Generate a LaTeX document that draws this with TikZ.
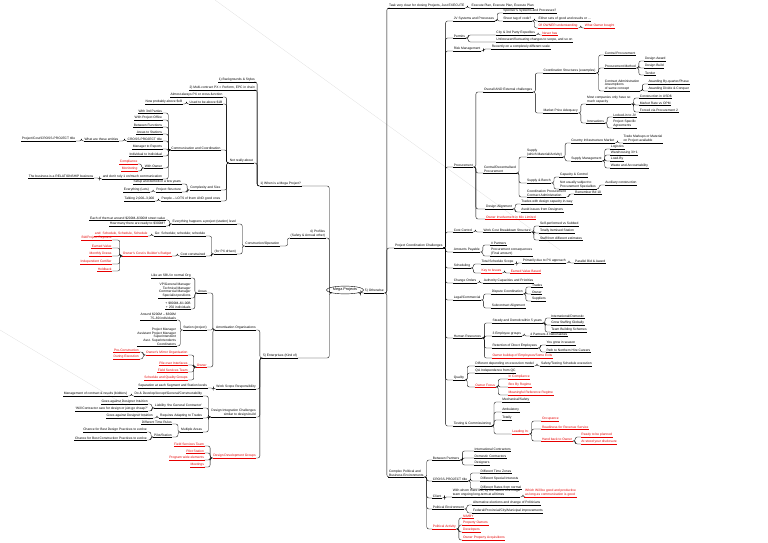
\documentclass[tikz,border=0pt]{standalone}
\usepackage{fontspec}
\setmainfont{Liberation Sans}
\usetikzlibrary{shapes.geometric}
\definecolor{hot}{RGB}{230,0,0}
\tikzset{leaf/.style={inner sep=0.5pt,align=left,font=\fontsize{3.3}{3.7}\selectfont},
  conn/.style={line width=0.35pt,rounded corners=2pt}}
% right hand leaf: colour, name, gap, y, text, parent
\newcommand\rt[6][black]{\path (#6.south east) ++(#3,0) coordinate (tmpx) (0,#4) coordinate (tmpy);
  \node[leaf,text=#1,anchor=south west] (#2) at (tmpx |- tmpy) {#5};
  \draw[conn] (#6.south east) -- ++(2.5,0) |- (#2.south west);
  \draw[conn,#1] (#2.south west) -- (#2.south east);}
% left hand leaf
\newcommand\lf[6][black]{\path (#6.south west) ++(-#3,0) coordinate (tmpx) (0,#4) coordinate (tmpy);
  \node[leaf,align=right,text=#1,anchor=south east] (#2) at (tmpx |- tmpy) {#5};
  \draw[conn] (#6.south west) -- ++(-2.5,0) |- (#2.south east);
  \draw[conn,#1] (#2.south east) -- (#2.south west);}
\begin{document}
\begin{tikzpicture}[x=1pt,y=-1pt]
\useasboundingbox (0,0) rectangle (768,543);
\draw[black!12,line width=0.3pt] (215,0) -- (560,250);
\draw[black!12,line width=0.3pt] (0,330) -- (150,420);
\node[draw,ellipse,inner sep=1pt,font=\fontsize{3.8}{4}\selectfont] (mp) at (345,290) {Mega Projects};
% right side
\rt{oth}{6}{293}{5) Otherwise}{mp}
\rt{top}{4}{8}{Task very clear for closing Projects, Just EXECUTE}{oth}
\rt{ex}{6}{8}{Execute Plan, Execute Plan, Execute Plan}{top}
\rt{pcc}{10}{248}{Project Coordination Challenges}{oth}
\rt{cpb}{4}{477}{Complex Political and\\Business Environments}{oth}
% project coordination
\rt{jv}{10}{21}{JV Systems and Processes}{pcc}
\rt{jva}{8}{13}{Sponsor's Systems and Processes?}{jv}
\rt{jvb}{8}{21}{Sheer tag of code?}{jv}
\rt{jvc}{6}{21}{Either sets of good and results or ...}{jvb}
\rt[hot]{jvd}{6}{28}{Of OWNER understanding}{jvb}
\rt[hot]{jve}{6}{28}{What Owner bought}{jvd}
\rt{per}{10}{38}{Permits}{pcc}
\rt{pera}{30}{35}{City \& 3rd Party Expedites}{per}
\rt[hot]{perb}{6}{35}{Never has}{pera}
\rt{perc}{30}{42}{Unforeseen/fluctuating changes to scope, and so on}{per}
\rt{risk}{10}{51}{Risk Management}{pcc}
\rt{riska}{10}{49}{Recently on a completely different scale}{risk}
\rt{proc}{10}{167}{Procurement}{pcc}
\rt{ov}{10}{92}{Overall AND External challenges}{proc}
\rt{cs}{10}{73}{Coordination Structures (examples)}{ov}
\rt{csa}{8}{55}{Central Procurement}{cs}
\rt{csb}{8}{68}{Procurement Method}{cs}
\rt{csba}{8}{61}{Design Award}{csb}
\rt{csbb}{8}{68}{Design Build}{csb}
\rt{csbc}{8}{75}{Tender}{csb}
\rt{csc}{8}{91}{Contract Administration\\Assumptions\\of same concept}{cs}
\rt{csca}{8}{84}{Awarding By-quarter/Phase}{csc}
\rt{cscb}{8}{91}{Awarding Divide \& Conquer}{csc}
\rt{mpa}{10}{113}{Market Price Adequacy}{ov}
\rt{mpaa}{8}{104}{Most companies only have so\\much capacity}{mpa}
\rt{mpab}{8}{98}{Construction in USD\$}{mpaa}
\rt{mpac}{8}{105}{Market Rate vs OPM}{mpaa}
\rt{mpad}{8}{112}{Forced via Procurement 2}{mpaa}
\rt{inn}{8}{123}{Innovations}{mpa}
\rt{inna}{8}{117}{Locked-in to JV}{inn}
\rt{innb}{8}{128}{Project Specific\\Agreements}{inn}
\rt{cdp}{10}{173}{Central/Decentralised\\Procurement}{proc}
\rt{sup}{10}{157}{Supply\\(which Material/Activity)}{cdp}
\rt{supa}{8}{143}{Country Infrastructure Market}{sup}
\rt{supb}{8}{143}{Trade Markups or Material\\on Project available}{supa}
\rt{supc}{8}{161}{Supply Management}{sup}
\rt{supd}{8}{149}{Logistics}{supc}
\rt{supe}{8}{155}{Warehousing 3/+1}{supc}
\rt{supf}{8}{161}{Load-By}{supc}
\rt{supg}{8}{168}{Waste and Accountability}{supc}
\rt{sub}{10}{183}{Supply \& Bench}{cdp}
\rt{suba}{8}{177}{Capacity \& Control}{sub}
\rt{subb}{8}{189}{Not usually subject to\\Procurement Specialties}{sub}
\rt{subc}{8}{185}{Auxiliary construction}{subb}
\rt{cpa}{10}{197}{Coordination Procurement\\Contract Administration}{cdp}
\rt{cpab}{8}{194}{Remember Bd 10}{cpa}
\rt{da}{12}{209}{Design Alignment}{proc}
\rt{daa}{8}{204}{Trades with design capacity in-way}{da}
\rt{dab}{8}{212}{Avoid issues from Designers}{da}
\rt[hot]{own}{12}{219}{Owner Involvement in Mix Limited}{proc}
\rt{cc}{10}{232}{Cost Control}{pcc}
\rt{wcb}{10}{232}{Work Cost Breakdown Structure}{cc}
\rt{wcba}{8}{226}{Self-performed vs Subbed}{wcb}
\rt{wcbb}{8}{233}{Totally Itemised Station}{wcb}
\rt{wcbc}{8}{240}{Staff from different estimates}{wcb}
\rt{ap}{10}{252}{Amounts Payable}{pcc}
\rt{apa}{10}{245}{\# Partners}{ap}
\rt{apb}{10}{256}{Procurement consequences\\(Final amount)}{ap}
\rt{sch}{10}{268}{Scheduling}{pcc}
\rt{scha}{10}{264}{Total Schedule Scope}{sch}
\rt{schb}{8}{263}{Primarily due to PX approach}{scha}
\rt{schc}{8}{263}{Parallel Bid \& Award}{schb}
\rt[hot]{schd}{10}{273}{Key to Issues}{sch}
\rt[hot]{sche}{8}{273}{Earned Value Based}{schd}
\rt{chg}{10}{283}{Change Orders}{pcc}
\rt{chga}{6}{283}{Authority Capacities and Priorities}{chg}
\rt{lc}{10}{300}{Legal/Commercial}{pcc}
\rt{lca}{10}{294}{Dispute Coordination}{lc}
\rt{lcb}{8}{287}{Trades}{lca}
\rt{lcc}{8}{294}{Owner}{lca}
\rt{lcd}{8}{301}{Suppliers}{lca}
\rt{lce}{10}{308}{Subcontract Alignment}{lc}
\rt{hr}{10}{338}{Human Resources}{pcc}
\rt{hra}{10}{323}{Steady and Demob within 5 years}{hr}
\rt{hrb}{8}{318}{International/Domestic}{hra}
\rt{hrc}{8}{325}{Grow Staffing Globally}{hra}
\rt{hrd}{8}{332}{Team Building Schemes}{hra}
\rt{hre}{10}{336}{3 Employee groups}{hr}
\rt{hrf}{8}{336}{4 Partners 4 Nationalities}{hre}
\rt{hrg}{10}{348}{Retention of Direct Employees}{hr}
\rt{hrh}{8}{345}{You grow in season}{hrg}
\rt{hri}{8}{352}{Path to Northern Hire Careers}{hrg}
\rt[hot]{hrj}{10}{358}{Owner buildup of Employees/Some Exits}{hr}
\rt{q}{10}{380}{Quality}{pcc}
\rt{qa}{10}{366}{Different depending on execution model}{q}
\rt{qb}{6}{366}{Safety/Testing Schedule execution}{qa}
\rt{qc}{10}{373}{QA Independence from QC}{q}
\rt[hot]{qd}{10}{387}{Owner Focus}{q}
\rt[hot]{qe}{12}{379}{In Compliance}{qd}
\rt[hot]{qf}{12}{387}{Box By Regime}{qd}
\rt[hot]{qg}{12}{395}{Meaningful Reference Regime}{qd}
\rt{tc}{10}{426}{Testing \& Commissioning}{pcc}
\rt{tca}{10}{402}{Mechanical/Safety}{tc}
\rt{tcb}{10}{412}{Ambulatory}{tc}
\rt{tcc}{10}{420}{Totally}{tc}
\rt[hot]{tcd}{20}{434}{Leading In:}{tc}
\rt[hot]{tce}{12}{421}{Occupance}{tcd}
\rt[hot]{tcf}{12}{429}{Readiness for Revenue Service}{tcd}
\rt[hot]{tcg}{12}{441}{Hand back to Owner}{tcd}
\rt[hot]{tch}{8}{437}{Ready to be planned}{tcg}
\rt[hot]{tci}{8}{444}{At stood your disclosure}{tcg}
% political and business
\rt{bp}{8}{460}{Between Partners}{cpb}
\rt{bpa}{14}{451}{International Contractors}{bp}
\rt{bpb}{14}{458}{Domestic Contractors}{bp}
\rt{bpc}{14}{465}{Designers}{bp}
\rt{ce}{8}{481}{CROSS-PROJECT title}{cpb}
\rt{cea}{12}{473}{Different Time Zones}{ce}
\rt{ceb}{12}{481}{Different Special Interests}{ce}
\rt{cec}{12}{489}{Different Rates from normal}{ce}
\rt{cl}{8}{498}{Client}{cpb}
\rt{cla}{10}{497}{With whom there will, by the nature of a mega\\team ongoing long-term at all times}{cl}
\rt[hot]{clb}{4}{497}{Which Will be good and productive\\as long as communication is good}{cla}
\rt{pe}{8}{509}{Political Environment}{cpb}
\rt{pea}{8}{505}{Alternative elections and change of Politicians}{pe}
\rt{peb}{8}{513}{Federal/Provincial/City/Municipal improvements}{pe}
\rt[hot]{pa}{8}{529}{Political Activity}{cpb}
\rt[hot]{paa}{6}{518}{NIMBY}{pa}
\rt[hot]{pab}{6}{525}{Property Owners}{pa}
\rt[hot]{pac}{6}{532}{Developers}{pa}
\rt[hot]{pad}{6}{540}{Owner Property Acquisitions}{pa}
% left side
\lf{wmp}{30}{186}{1) When is a Mega Project?}{mp}
\lf{bg}{4}{82}{1) Backgrounds \& Styles}{wmp}
\lf{mc}{4}{90}{2) Multi-contract PX = Perform, EPC in chain}{wmp}
\lf{nra}{6}{163}{Not really about}{wmp}
\lf{aa}{6}{97}{Almost always PX or cross-function}{nra}
\lf{ub}{6}{104}{Used to be above \$1B}{nra}
\lf{ubn}{6}{104}{Now probably above \$xB}{ub}
\lf{coc}{8}{150}{Communication and Coordination}{nra}
\lf{ca}{8}{113}{With 3rd Parties}{coc}
\lf{cb}{8}{120}{With Project Office}{coc}
\lf{cbb}{8}{127}{Between Functions}{coc}
\lf{cbc}{8}{134}{Areas to Stations}{coc}
\lf{cbd}{8}{141}{CROSS-PROJECT title}{coc}
\lf{cbe}{8}{141}{What are these entities}{cbd}
\lf{cbf}{8}{141}{Project/Cost/CROSS-PROJECT title}{cbe}
\lf{cbg}{8}{149}{Manager to Reports}{coc}
\lf{cbh}{8}{156}{Individual to Individual}{coc}
\lf{cbi}{8}{168}{With Owner}{coc}
\lf[hot]{cbj}{6}{164}{Compliance}{cbi}
\lf[hot]{cbk}{6}{171}{Monitoring}{cbi}
\lf{cbl}{8}{179}{and don't rely 1 on/much communication}{coc}
\lf{cbm}{8}{178}{The business is a RELATIONSHIP business}{cbl}
\lf{cs4}{8}{190}{Complexity and Size}{nra}
\lf{csa4}{8}{184}{Setup and demob in a few years}{cs4}
\lf{csb4}{8}{192}{Project Structure}{cs4}
\lf{csc4}{6}{192}{Everything (Lots)}{csb4}
\lf{csd4}{8}{201}{People -- LOTS of them AND good ones}{nra}
\lf{cse4}{6}{201}{Talking 2,000--3,000}{csd4}
\lf{prof}{6}{238}{4) Profiles\\(Safety \& Annual other)}{mp}
\lf{cons}{10}{246}{Construction/Operation}{prof}
\lf{eh}{8}{224}{Everything happens a project (station) level}{cons}
\lf{eha}{6}{220}{Each of them at around \$200M--\$300M street value}{eh}
\lf{ehb}{6}{226}{How many there are ready to \$300M?}{eh}
\lf{px}{8}{254}{(for PX driven)}{cons}
\lf{pxa}{8}{236}{Go: Schedule; schedule; schedule}{px}
\lf[hot]{pxb}{6}{236}{and: Schedule, Schedule, Schedule}{pxa}
\lf{pxc}{8}{256}{Cost constrained}{px}
\lf[hot]{pxd}{8}{256}{Owner's Cost is Builder's Budget}{pxc}
\lf[hot]{pxe}{10}{240}{Bid/Project Payment}{pxd}
\lf[hot]{pxf}{10}{248}{Earned Value}{pxd}
\lf[hot]{pxg}{10}{256}{Monthly Draws}{pxd}
\lf[hot]{pxh}{10}{264}{Independent Certifier}{pxd}
\lf[hot]{pxi}{10}{271}{Holdback}{pxd}
\lf{ent}{34}{358}{5) Enterprises (Kind of)}{mp}
\lf{ao}{6}{330}{Amortisation Organisations}{ent}
\lf{ar}{8}{293}{Areas}{ao}
\lf{ara}{6}{278}{Like an SBU in normal Org}{ar}
\lf{arb}{6}{298}{VP/General Manager\\Technical Manager\\Commercial Manager\\Specialist positions}{ar}
\lf{arc}{6}{309}{+ \$800M--\$1.00B\\+ 250 individuals}{ar}
\lf{stn}{8}{330}{Station (project)}{ao}
\lf{stna}{6}{320}{Around \$200M -- \$300M\\75--80 individuals}{stn}
\lf{stnb}{6}{346}{Project Manager\\Assistant Project Manager\\Superintendent\\Asst. Superintendents\\Coordinators}{stn}
\lf[hot]{ow}{8}{367}{Owner}{ao}
\lf[hot]{owa}{8}{355}{Owner's Mirror Organisation}{ow}
\lf[hot]{owb}{6}{352}{Pre-Construction}{owa}
\lf[hot]{owc}{6}{359}{During Execution}{owa}
\lf[hot]{owd}{8}{365}{Pile over Interfaces}{ow}
\lf[hot]{owe}{8}{372}{Field Services Team}{ow}
\lf[hot]{owf}{8}{380}{Schedule and Quality Groups}{ow}
\lf{ws}{6}{389}{Work Scope Responsibility}{ent}
\lf{wsa}{8}{388}{Separation at each Segment and Station levels}{ws}
\lf{di}{6}{417}{Design Integration Challenges\\similar to design-build}{ent}
\lf{dia}{8}{396}{Do \& Develop/Accept/General/Constructability}{di}
\lf{dib}{6}{396}{Management of contract \& results (bidders)}{dia}
\lf{dic}{8}{408}{Liability `the General Contractor'}{di}
\lf{did}{6}{404}{Goes against Designer Intuition}{dic}
\lf{die}{6}{411}{`Will Contractor care for design or just go cheap?'}{dic}
\lf{dif}{8}{418}{Requires Adapting to Trades}{di}
\lf{dig}{6}{418}{Goes against Designer Intuition}{dif}
\lf{dih}{8}{432}{Multiple Areas}{di}
\lf{dii}{8}{424}{Different Time Rules}{dih}
\lf{dij}{8}{437}{Pilot/Station}{dih}
\lf{dik}{6}{432}{Chance for Best Design Practices to evolve}{dij}
\lf{dil}{6}{440}{Chance for Best Construction Practices to evolve}{dij}
\lf[hot]{dd}{6}{458}{Design Development Groups}{ent}
\lf[hot]{dda}{8}{446}{Field Services Team}{dd}
\lf[hot]{ddb}{8}{453}{Pilot Station}{dd}
\lf[hot]{ddc}{8}{460}{Program wide elements}{dd}
\lf[hot]{ddd}{8}{467}{Meetings}{dd}
\end{tikzpicture}
\end{document}
